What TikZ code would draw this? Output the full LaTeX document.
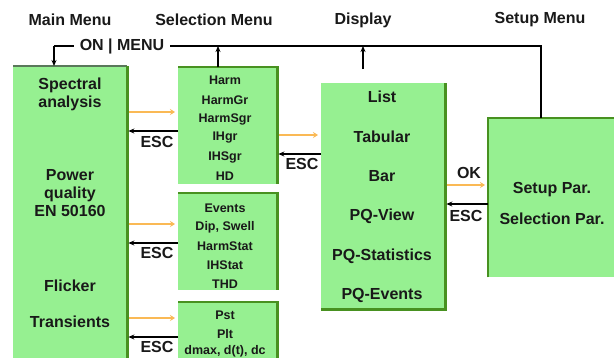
\documentclass[tikz,border=0pt]{standalone}
\usepackage{fontspec}
\setmainfont{Liberation Sans}
\usetikzlibrary{arrows.meta}
\definecolor{boxgreen}{RGB}{150,240,145}
\definecolor{edgegreen}{RGB}{72,145,32}
\definecolor{edgegray}{RGB}{90,120,90}
\definecolor{arrorange}{RGB}{250,185,85}
\definecolor{txt}{RGB}{25,25,25}
\tikzset{
  box/.style={fill=boxgreen, draw=none, inner sep=0pt, anchor=north west},
  edge/.style={draw=edgegreen, line width=2.2pt},
  big/.style={font=\fontsize{16}{18}\selectfont\bfseries, text=txt, inner sep=0pt},
  small/.style={font=\fontsize{12.5}{14}\selectfont\bfseries, text=txt, inner sep=0pt},
  multi/.style={big, align=center, font=\fontsize{16}{18}\selectfont\bfseries},
  fwd/.style={draw=arrorange, line width=2.6pt, -{Stealth[length=5pt,width=6pt]}},
  back/.style={draw=black, line width=2pt, -{Stealth[length=6pt,width=5pt]}},
  link/.style={draw=black, line width=1.8pt},
  uparr/.style={draw=black, line width=2pt, -{Stealth[length=6pt,width=5pt]}}
}
\begin{document}
\begin{tikzpicture}[x=1pt,y=-1pt]
\useasboundingbox (0,0) rectangle (614,357);
\clip (0,0) rectangle (614,357);
\fill[white] (0,0) rectangle (614,357);

% boxes
\node[box, minimum width=114pt, minimum height=310pt] (main) at (13,66) {};
\node[box, minimum width=99pt, minimum height=117pt] (sel1) at (178,67) {};
\node[box, minimum width=99pt, minimum height=97pt] (sel2) at (178,193) {};
\node[box, minimum width=99pt, minimum height=70pt] (sel3) at (178,302) {};
\node[box, minimum width=124pt, minimum height=226pt] (disp) at (321,83) {};
\node[box, minimum width=140pt, minimum height=159pt] (setup) at (488,118) {};

\draw[edge, draw=edgegray] (main.north west) -- (main.north east);
\draw[edge] (main.north east) -- (main.south east);
\draw[edge] (sel1.north west) -- (sel1.north east) -- (sel1.south east);
\draw[edge] (sel2.north west) -- (sel2.north east) -- (sel2.south east);
\draw[edge] (sel3.north west) -- (sel3.north east) -- (sel3.south east);
\draw[edge] (disp.north east) -- (disp.south east) -- (disp.south west);
\draw[edge] (setup.south west) -- (setup.north west) -- (setup.north east);

% titles
\node[big] (t1) at (70,20) {Main Menu};
\node[big] (t2) at (214,20) {Selection Menu};
\node[big] (t3) at (363,20) {Display};
\node[big] (t4) at (540,20) {Setup Menu};

% ON | MENU loop
\node[big] (onmenu) at (122,46) {ON | MENU};
\coordinate (cl) at (54,46);
\coordinate (cr) at (541,46);
\coordinate (dispup) at (363,69);
\draw[link] (onmenu.west) ++(-6,0) -- (cl);
\draw[uparr] (cl) -- (main.north -| cl);
\draw[link] (onmenu.east) ++(6,0) -- (cr) -- (setup.north -| cr);
\draw[uparr] (sel1.north -| 218,0) -- (218,46);
\draw[uparr] (dispup) -- (363,46);

% main menu texts
\node[multi] (m1) at (70,94) {Spectral\\analysis};
\node[multi] (m2) at (70,193) {Power\\quality\\EN 50160};
\node[big] (m3) at (70,286) {Flicker};
\node[big] (m4) at (70,322) {Transients};

% selection 1
\node[small] (s11) at (225,80) {Harm};
\node[small] (s12) at (225,100) {HarmGr};
\node[small] (s13) at (225,119) {HarmSgr};
\node[small] (s14) at (225,138) {IHgr};
\node[small] (s15) at (225,157) {IHSgr};
\node[small] (s16) at (225,176) {HD};
% selection 2
\node[small] (s21) at (225,208) {Events};
\node[small] (s22) at (225,227) {Dip, Swell};
\node[small] (s23) at (225,246) {HarmStat};
\node[small] (s24) at (225,265) {IHStat};
\node[small] (s25) at (225,284) {THD};
% selection 3
\node[small] (s31) at (225,315) {Pst};
\node[small] (s32) at (225,334) {Plt};
\node[small] (s33) at (225,351) {dmax, d(t), dc};

% display
\node[big] (d1) at (382,97) {List};
\node[big] (d2) at (382,137) {Tabular};
\node[big] (d3) at (382,176) {Bar};
\node[big] (d4) at (382,216) {PQ-View};
\node[big] (d5) at (382,256) {PQ-Statistics};
\node[big] (d6) at (382,295) {PQ-Events};

% setup
\node[big] (u1) at (552,190) {Setup Par.};
\node[big] (u2) at (552,219) {Selection Par.};

% arrows main <-> selection
\draw[fwd] ([xshift=2pt]main.east |- 0,112) -- ([xshift=-3pt]sel1.west |- 0,112);
\draw[back] (sel1.west |- 0,131) -- ([xshift=1pt]main.east |- 0,131);
\node[big] (e1) at (157,142) {ESC};
\draw[fwd] ([xshift=2pt]main.east |- 0,224) -- ([xshift=-3pt]sel2.west |- 0,224);
\draw[back] (sel2.west |- 0,243) -- ([xshift=1pt]main.east |- 0,243);
\node[big] (e2) at (157,253) {ESC};
\draw[fwd] ([xshift=2pt]main.east |- 0,318) -- ([xshift=-3pt]sel3.west |- 0,318);
\draw[back] (sel3.west |- 0,337) -- ([xshift=1pt]main.east |- 0,337);
\node[big] (e3) at (157,347) {ESC};

% selection <-> display
\draw[fwd] ([xshift=2pt]sel1.east |- 0,135) -- ([xshift=-3pt]disp.west |- 0,135);
\draw[back] (disp.west |- 0,154) -- ([xshift=1pt]sel1.east |- 0,154);
\node[big] (e4) at (302,164) {ESC};

% display <-> setup
\node[big] (ok) at (469,173) {OK};
\draw[fwd] ([xshift=2pt]disp.east |- 0,185) -- ([xshift=-3pt]setup.west |- 0,185);
\draw[back] (setup.west |- 0,204) -- ([xshift=1pt]disp.east |- 0,204);
\node[big] (e5) at (466,216) {ESC};
\end{tikzpicture}
\end{document}
